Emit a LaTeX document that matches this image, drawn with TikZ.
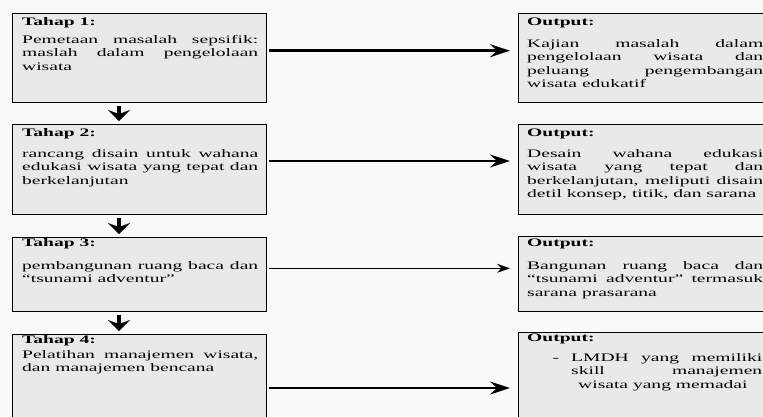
\documentclass[tikz,border=0pt]{standalone}
\usepackage{fontspec}
\setmainfont[FakeStretch=1.70]{Liberation Serif}
\usetikzlibrary{arrows.meta,calc}
\hbadness=10000
\tikzset{
  box/.style={draw=black, line width=0.9pt, fill=gray!17, anchor=north west, inner sep=0pt},
  ttl/.style={anchor=base west, inner sep=0pt, font=\fontsize{11.5}{13.5}\selectfont\bfseries},
  body/.style={anchor=north west, inner sep=0pt, align=justify, font=\fontsize{11.5}{13.5}\selectfont},
  thickarrow/.style={line width=2.6pt, -{Stealth[length=20pt,width=13pt,inset=7pt]}, shorten <=2pt, shorten >=8pt},
  thinarrow/.style={line width=1.1pt, -{Stealth[length=13pt,width=9pt,inset=4.5pt]}, shorten <=2pt, shorten >=8pt},
  downarrow/.style={line width=3.6pt, -{Stealth[length=11pt,width=22pt,inset=4pt]}, shorten <=3pt, shorten >=3pt}
}
\newcommand{\fr}{\rule{0pt}{8pt}}
\begin{document}
\begin{tikzpicture}[x=1pt,y=-1pt]
\useasboundingbox (0,0) rectangle (763,416);
\clip (0,0) rectangle (763,416);
\fill[gray!5] (0,0) rectangle (763,416);

% boxes
\node[box, minimum width=254pt, minimum height=89pt] (t1) at (12,13) {};
\node[box, minimum width=254pt, minimum height=90pt] (t2) at (12,124) {};
\node[box, minimum width=254pt, minimum height=74pt] (t3) at (12,237) {};
\node[box, minimum width=254pt, minimum height=100pt] (t4) at (12,334) {};
\node[box, minimum width=260pt, minimum height=89pt] (o1) at (518,13) {};
\node[box, minimum width=260pt, minimum height=90pt] (o2) at (518,124) {};
\node[box, minimum width=260pt, minimum height=75pt] (o3) at (518,236) {};
\node[box, minimum width=260pt, minimum height=100pt] (o4) at (518,332) {};

% titles
\node[ttl] (t1h) at (22,25.5) {Tahap 1:};
\node[ttl] (t2h) at (22,136) {Tahap 2:};
\node[ttl] (t3h) at (22,246.5) {Tahap 3:};
\node[ttl] (t4h) at (22,343) {Tahap 4:};
\node[ttl] (o1h) at (527,25) {Output:};
\node[ttl] (o2h) at (527,136) {Output:};
\node[ttl] (o3h) at (527,246) {Output:};
\node[ttl] (o4h) at (527,341) {Output:};

% bodies
\node[body, text width=236pt] (t1b) at (22,35) {\fr Pemetaan masalah sepsifik:\linebreak maslah dalam pengelolaan\linebreak wisata};
\node[body, text width=236pt] (t2b) at (22,149) {\fr rancang disain untuk wahana\linebreak edukasi wisata yang tepat dan\linebreak berkelanjutan};
\node[body, text width=236pt] (t3b) at (22,261) {\fr pembangunan ruang baca dan\linebreak “tsunami adventur”};
\node[body, text width=236pt] (t4b) at (22,350) {\fr Pelatihan manajemen wisata,\linebreak dan manajemen bencana};
\node[body, text width=236pt] (o1b) at (527,39) {\fr Kajian masalah dalam\linebreak pengelolaan wisata dan\linebreak peluang pengembangan\linebreak wisata edukatif};
\node[body, text width=236pt] (o2b) at (527,149) {\fr Desain wahana edukasi\linebreak wisata yang tepat dan\linebreak berkelanjutan, meliputi disain\linebreak detil konsep, titik, dan sarana};
\node[body, text width=236pt] (o3b) at (527,261) {\fr Bangunan ruang baca dan\linebreak “tsunami adventur” termasuk\linebreak sarana prasarana};
\node[body, text width=191pt] (o4b) at (571,353) {\parfillskip=0pt\fr\llap{-\hspace{12pt}}LMDH yang memiliki\linebreak skill manajemen\linebreak \hspace*{7pt}wisata yang memadai};

% horizontal arrows
\coordinate (h1) at (0,50.7);
\coordinate (h2) at (0,161);
\coordinate (h3) at (0,268.3);
\coordinate (h4) at (0,388);
\draw[thickarrow] (t1.east |- h1) -- (o1.west |- h1);
\draw[thickarrow] (t2.east |- h2) -- (o2.west |- h2);
\draw[thinarrow] (t3.east |- h3) -- (o3.west |- h3);
\draw[thickarrow] (t4.east |- h4) -- (o4.west |- h4);

% down arrows
\coordinate (v) at (119,0);
\draw[downarrow] (t1.south -| v) -- (t2.north -| v);
\draw[downarrow] (t2.south -| v) -- (t3.north -| v);
\draw[downarrow] (t3.south -| v) -- (t4.north -| v);
\end{tikzpicture}
\end{document}
